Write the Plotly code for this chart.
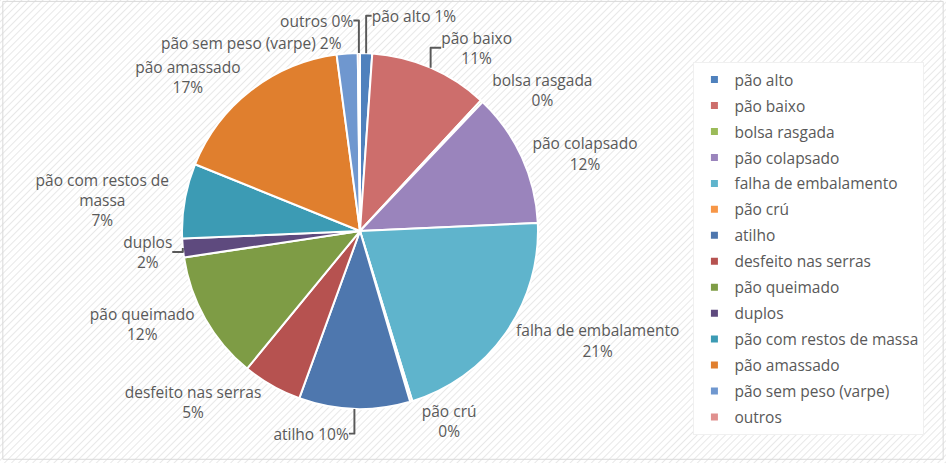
import plotly.graph_objects as go
import base64

labels = ["pão alto", "pão baixo", "bolsa rasgada", "pão colapsado", "falha de embalamento",
          "pão crú", "atilho", "desfeito nas serras", "pão queimado", "duplos",
          "pão com restos de massa", "pão amassado", "pão sem peso (varpe)", "outros"]
display_names = ["pão alto", "pão baixo", "bolsa rasgada", "pão colapsado", "falha de embalamento",
                 "pão crú", "atilho", "desfeito nas serras", "pão queimado", "duplos",
                 "pão com restos de<br>massa", "pão amassado", "pão sem peso (varpe)", "outros"]
values = [1.1, 10.8, 0.2, 12.2, 21.0, 0.2, 10.1, 5.4, 11.7, 1.7, 6.8, 16.8, 1.9, 0.2]
colors = ["#4F81BD", "#CD6E6C", "#9BBB59", "#9A84BC", "#5FB4CC", "#F79646", "#4E77AE",
          "#B65250", "#7E9C45", "#5E4A7E", "#3C9BB4", "#E07F2E", "#6F97CF", "#E0908E"]

FONT = "Open Sans"
GREY = "#595959"

# crowded labels (top and bottom of the pie) are written on a single line
crowded = {"pão alto", "pão sem peso (varpe)", "outros", "atilho"}
templates = ["%{text} %{percent:.0%}" if lab in crowded else "%{text}<br>%{percent:.0%}"
             for lab in labels]

svg = ('<svg xmlns="http://www.w3.org/2000/svg" width="946" height="463">'
       '<defs><pattern id="h" width="5" height="5" patternUnits="userSpaceOnUse" '
       'patternTransform="rotate(45)"><rect width="5" height="5" fill="#ffffff"/>'
       '<line x1="0" y1="0" x2="0" y2="5" stroke="#e8e8e8" stroke-width="2"/></pattern></defs>'
       '<rect width="946" height="463" fill="url(#h)"/></svg>')
uri = "data:image/svg+xml;base64," + base64.b64encode(svg.encode()).decode()

fig = go.Figure()
fig.add_trace(go.Pie(
    labels=labels, values=values, text=display_names,
    sort=False, direction="clockwise", rotation=0,
    marker=dict(colors=colors, line=dict(color="white", width=2)),
    textposition="outside", texttemplate=templates,
    textfont=dict(family=FONT, size=15.5, color=GREY),
    domain=dict(x=[0.1924, 0.5687], y=[0.1166, 0.8855]),
    hoverinfo="label+percent", showlegend=False,
))
# legend entries (one per category)
for lab, col in zip(labels, colors):
    fig.add_trace(go.Scatter(
        x=[None], y=[None], mode="markers", name=lab, legendgroup=lab,
        marker=dict(symbol="square", size=7, color=col), showlegend=True,
    ))
fig.update_layout(
    width=946, height=463,
    margin=dict(l=0, r=0, t=0, b=0, autoexpand=False),
    paper_bgcolor="white", plot_bgcolor="rgba(0,0,0,0)",
    xaxis=dict(visible=False), yaxis=dict(visible=False),
    images=[dict(source=uri, xref="paper", yref="paper", x=0, y=1, sizex=1, sizey=1,
                 xanchor="left", yanchor="top", sizing="stretch", layer="below")],
    legend=dict(x=0.733, y=0.866, xanchor="left", yanchor="top",
                bgcolor="white", bordercolor="#f0f0f0", borderwidth=1,
                font=dict(family=FONT, size=15.5, color=GREY),
                itemwidth=30, tracegroupgap=2.8, maxheight=440),
    shapes=[dict(type="rect", xref="paper", yref="paper", x0=0.003, y0=0.008, x1=0.997, y1=0.997,
                 line=dict(color="#d9d9d9", width=1))],
)
fig.write_html("out.html")
